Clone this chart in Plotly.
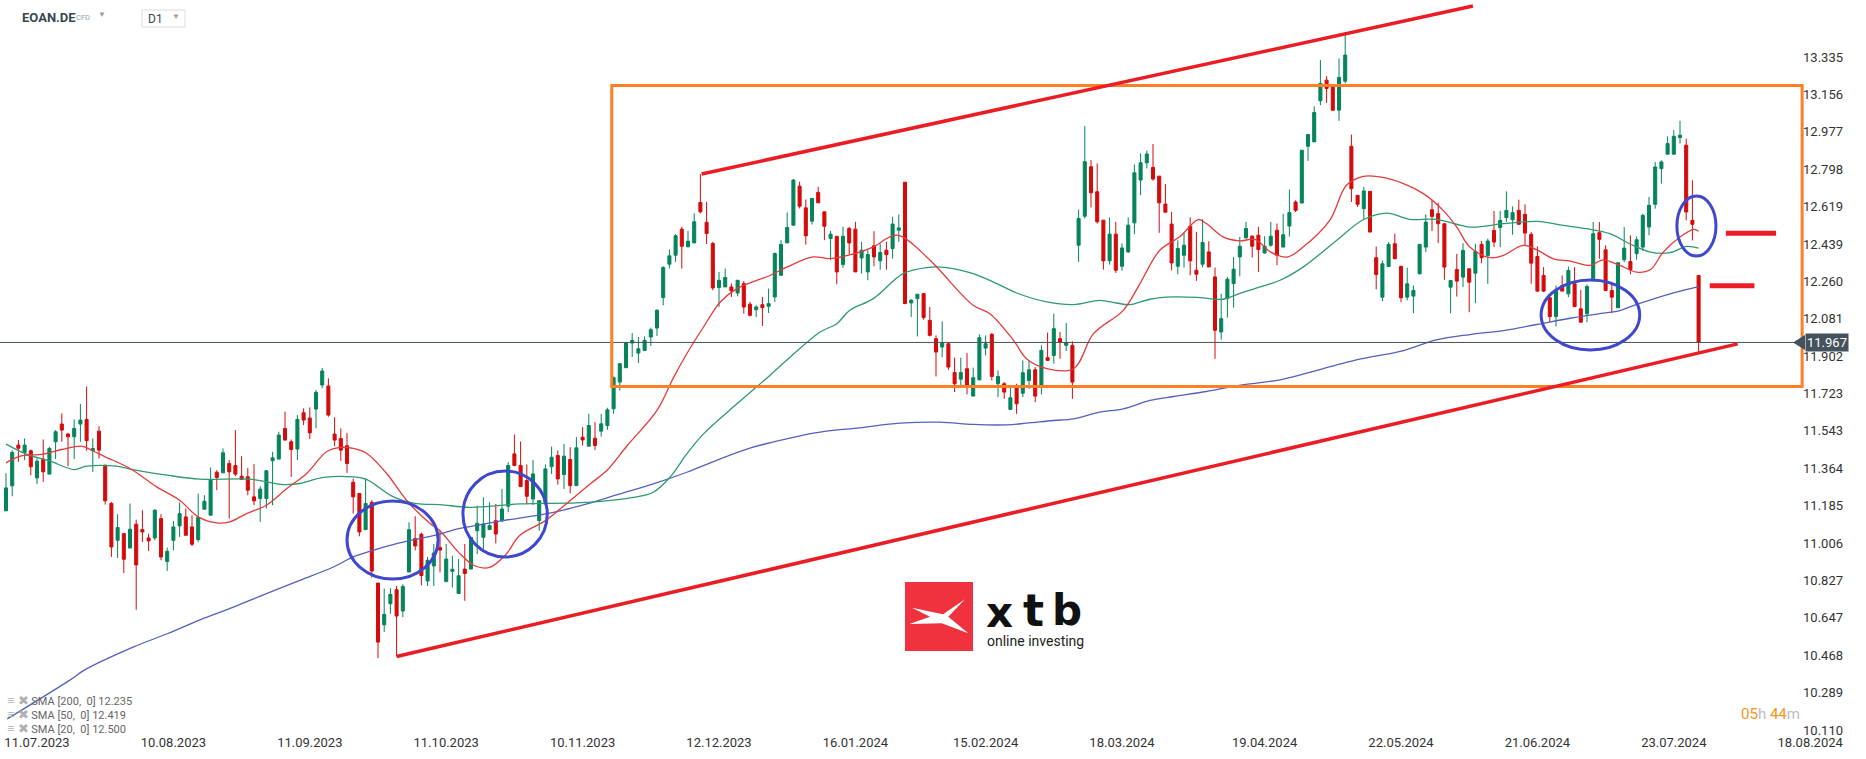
import plotly.graph_objects as go

# ---- candles, bar index 0 = early July 2023, last bar = 29.07.2024 ----
opens = [
    11.16, 11.28, 11.475, 11.44, 11.448, 11.318, 11.408, 11.336, 11.491, 11.576,
    11.528, 11.515, 11.576, 11.598, 11.448, 11.542, 11.379, 11.195, 11.019, 11.051,
    10.982, 11.096, 11.070, 11.030, 11.030, 11.123, 10.917, 11.019, 11.088, 11.131,
    11.083, 11.022, 11.168, 11.139, 11.345, 11.342, 11.387, 11.377, 11.326, 11.323,
    11.227, 11.219, 11.219, 11.400, 11.408, 11.555, 11.491, 11.456, 11.630, 11.605,
    11.648, 11.763, 11.758, 11.528, 11.507, 11.472, 11.297, 11.243, 11.070, 11.201,
    10.814, 10.614, 10.715, 10.782, 10.680, 10.867, 11.027, 11.048, 10.824, 10.896,
    10.985, 10.822, 10.870, 10.764, 10.881, 10.881, 11.065, 11.033, 11.070, 11.113,
    11.113, 11.182, 11.433, 11.377, 11.305, 11.217, 11.113, 11.193, 11.372, 11.425,
    11.334, 11.406, 11.281, 11.513, 11.470, 11.508, 11.542, 11.569, 11.649, 11.777,
    11.846, 11.964, 11.916, 11.929, 11.993, 12.036, 12.182, 12.342, 12.385, 12.510,
    12.425, 12.444, 12.638, 12.543, 12.441, 12.230, 12.233, 12.233, 12.204, 12.249,
    12.150, 12.124, 12.148, 12.140, 12.185, 12.289, 12.444, 12.529, 12.716, 12.612,
    12.548, 12.686, 12.593, 12.465, 12.476, 12.340, 12.513, 12.510, 12.372, 12.305,
    12.430, 12.358, 12.409, 12.417, 12.505, 12.735, 12.156, 12.177, 12.201, 12.073,
    11.985, 11.945, 11.961, 11.823, 11.791, 11.841, 11.710, 11.788, 11.940, 12.006,
    11.769, 11.769, 11.646, 11.750, 11.724, 11.785, 11.836, 11.756, 11.894, 11.905,
    11.985, 11.953, 11.953, 12.433, 12.572, 12.809, 12.689, 12.553, 12.358, 12.486,
    12.332, 12.401, 12.540, 12.745, 12.828, 12.806, 12.764, 12.630, 12.534, 12.332,
    12.385, 12.524, 12.313, 12.342, 12.401, 12.281, 12.017, 12.177, 12.249, 12.377,
    12.468, 12.476, 12.481, 12.396, 12.433, 12.505, 12.424, 12.525, 12.640, 12.635,
    12.907, 12.928, 13.125, 13.224, 13.192, 13.080, 13.219, 12.907, 12.672, 12.608,
    12.691, 12.373, 12.184, 12.331, 12.440, 12.331, 12.184, 12.189, 12.296, 12.424,
    12.603, 12.584, 12.536, 12.232, 12.317, 12.280, 12.320, 12.299, 12.437, 12.384,
    12.504, 12.517, 12.565, 12.555, 12.600, 12.581, 12.485, 12.379, 12.288, 12.181,
    12.091, 12.240, 12.200, 12.248, 12.128, 12.104, 12.272, 12.493, 12.411, 12.216,
    12.133, 12.363, 12.355, 12.392, 12.424, 12.520, 12.629, 12.800, 12.869, 12.869,
    12.949, 12.912, 12.552, 12.288,
]
highs = [
    11.34, 11.45, 11.50, 11.507, 11.454, 11.411, 11.502, 11.467, 11.547, 11.627,
    11.534, 11.598, 11.672, 11.755, 11.507, 11.566, 11.379, 11.203, 11.144, 11.054,
    11.195, 11.118, 11.163, 11.051, 11.168, 11.144, 10.984, 11.112, 11.200, 11.171,
    11.139, 11.243, 11.235, 11.368, 11.355, 11.459, 11.403, 11.547, 11.422, 11.366,
    11.384, 11.278, 11.355, 11.443, 11.539, 11.635, 11.502, 11.619, 11.651, 11.656,
    11.739, 11.845, 11.795, 11.608, 11.555, 11.534, 11.315, 11.243, 11.315, 11.211,
    10.814, 10.787, 10.789, 10.801, 10.808, 11.105, 11.134, 11.056, 10.939, 11.001,
    11.065, 11.001, 10.945, 10.929, 11.001, 11.033, 11.185, 11.225, 11.201, 11.193,
    11.265, 11.393, 11.526, 11.492, 11.382, 11.404, 11.209, 11.382, 11.468, 11.449,
    11.481, 11.465, 11.513, 11.561, 11.625, 11.585, 11.625, 11.654, 11.804, 11.868,
    11.969, 12.012, 11.993, 11.996, 12.038, 12.126, 12.332, 12.412, 12.486, 12.521,
    12.502, 12.585, 12.774, 12.641, 12.449, 12.305, 12.321, 12.249, 12.265, 12.262,
    12.161, 12.145, 12.185, 12.225, 12.398, 12.457, 12.590, 12.750, 12.737, 12.652,
    12.657, 12.713, 12.593, 12.502, 12.476, 12.521, 12.521, 12.545, 12.449, 12.409,
    12.500, 12.441, 12.449, 12.569, 12.580, 12.735, 12.175, 12.198, 12.201, 12.137,
    12.001, 12.068, 11.961, 11.894, 11.894, 11.916, 11.846, 12.006, 12.001, 12.012,
    11.833, 11.777, 11.753, 11.769, 11.881, 11.881, 11.849, 11.953, 12.014, 12.105,
    12.017, 12.060, 11.972, 12.604, 13.004, 12.841, 12.825, 12.553, 12.566, 12.545,
    12.441, 12.566, 12.820, 12.873, 12.886, 12.918, 12.764, 12.726, 12.593, 12.457,
    12.492, 12.566, 12.497, 12.558, 12.452, 12.326, 12.201, 12.281, 12.377, 12.473,
    12.545, 12.481, 12.521, 12.476, 12.545, 12.537, 12.584, 12.699, 12.648, 12.888,
    12.963, 13.099, 13.320, 13.243, 13.192, 13.328, 13.440, 12.963, 12.672, 12.712,
    12.691, 12.427, 12.360, 12.448, 12.488, 12.336, 12.325, 12.240, 12.437, 12.581,
    12.651, 12.635, 12.536, 12.264, 12.392, 12.443, 12.320, 12.440, 12.453, 12.464,
    12.597, 12.597, 12.691, 12.619, 12.651, 12.629, 12.496, 12.427, 12.328, 12.184,
    12.240, 12.288, 12.331, 12.328, 12.219, 12.245, 12.544, 12.544, 12.432, 12.248,
    12.349, 12.520, 12.480, 12.475, 12.584, 12.664, 12.832, 12.840, 12.955, 12.984,
    13.029, 12.944, 12.744, 12.288,
]
lows = [
    11.16, 11.23, 11.395, 11.403, 11.331, 11.288, 11.299, 11.336, 11.408, 11.491,
    11.374, 11.408, 11.491, 11.448, 11.347, 11.411, 11.190, 10.939, 10.934, 10.862,
    10.982, 10.686, 11.011, 10.968, 11.019, 10.923, 10.872, 10.971, 11.035, 11.043,
    10.990, 11.011, 11.168, 11.139, 11.259, 11.342, 11.123, 11.326, 11.310, 11.235,
    11.187, 11.107, 11.171, 11.187, 11.408, 11.499, 11.323, 11.403, 11.571, 11.504,
    11.555, 11.747, 11.611, 11.470, 11.400, 11.342, 11.147, 11.038, 11.070, 10.840,
    10.454, 10.579, 10.667, 10.462, 10.651, 10.867, 10.971, 10.803, 10.800, 10.800,
    10.865, 10.817, 10.793, 10.764, 10.729, 10.881, 10.953, 10.977, 11.070, 11.004,
    11.105, 11.153, 11.377, 11.276, 11.193, 11.188, 11.065, 11.193, 11.337, 11.286,
    11.265, 11.244, 11.281, 11.473, 11.470, 11.452, 11.516, 11.548, 11.625, 11.737,
    11.846, 11.897, 11.868, 11.929, 11.950, 11.998, 12.145, 12.321, 12.353, 12.321,
    12.425, 12.444, 12.585, 12.438, 12.217, 12.137, 12.233, 12.185, 12.188, 12.105,
    12.092, 12.089, 12.046, 12.108, 12.161, 12.286, 12.444, 12.526, 12.609, 12.436,
    12.532, 12.636, 12.457, 12.361, 12.246, 12.324, 12.388, 12.305, 12.297, 12.265,
    12.332, 12.316, 12.316, 12.369, 12.449, 12.153, 12.089, 11.996, 12.076, 11.996,
    11.804, 11.897, 11.836, 11.729, 11.756, 11.718, 11.710, 11.785, 11.905, 11.785,
    11.705, 11.697, 11.646, 11.625, 11.705, 11.745, 11.681, 11.718, 11.878, 11.865,
    11.889, 11.926, 11.697, 12.353, 12.561, 12.614, 12.537, 12.316, 12.340, 12.300,
    12.310, 12.396, 12.486, 12.673, 12.801, 12.742, 12.492, 12.591, 12.313, 12.294,
    12.326, 12.289, 12.262, 12.326, 12.329, 11.889, 11.980, 12.086, 12.134, 12.284,
    12.465, 12.374, 12.305, 12.393, 12.425, 12.337, 12.424, 12.475, 12.592, 12.635,
    12.837, 12.928, 13.104, 13.115, 13.077, 13.029, 13.208, 12.640, 12.616, 12.555,
    12.496, 12.222, 12.165, 12.331, 12.368, 12.160, 12.168, 12.107, 12.293, 12.400,
    12.501, 12.443, 12.267, 12.107, 12.187, 12.232, 12.112, 12.155, 12.347, 12.248,
    12.424, 12.424, 12.544, 12.483, 12.533, 12.432, 12.248, 12.208, 12.208, 12.064,
    12.043, 12.213, 12.184, 12.136, 12.064, 12.064, 12.272, 12.368, 12.213, 12.107,
    12.133, 12.352, 12.293, 12.363, 12.405, 12.480, 12.608, 12.728, 12.869, 12.869,
    12.920, 12.552, 12.456, 11.920,
]
closes = [
    11.27, 11.44, 11.46, 11.475, 11.371, 11.398, 11.347, 11.459, 11.539, 11.547,
    11.515, 11.555, 11.595, 11.496, 11.459, 11.451, 11.208, 10.987, 11.080, 10.928,
    11.072, 10.901, 11.059, 11.016, 11.163, 10.939, 10.966, 11.083, 11.147, 11.043,
    11.000, 11.128, 11.206, 11.307, 11.320, 11.438, 11.347, 11.336, 11.310, 11.259,
    11.208, 11.264, 11.352, 11.414, 11.523, 11.499, 11.454, 11.598, 11.595, 11.534,
    11.728, 11.830, 11.619, 11.499, 11.451, 11.387, 11.227, 11.059, 11.195, 10.872,
    10.531, 10.664, 10.760, 10.656, 10.798, 11.070, 10.992, 10.850, 10.923, 10.958,
    10.972, 10.929, 10.880, 10.849, 10.860, 11.033, 11.100, 11.097, 11.089, 11.049,
    11.169, 11.377, 11.377, 11.276, 11.230, 11.337, 11.209, 11.361, 11.417, 11.313,
    11.422, 11.281, 11.462, 11.500, 11.569, 11.473, 11.577, 11.644, 11.798, 11.865,
    11.964, 11.977, 11.937, 11.977, 12.028, 12.121, 12.326, 12.382, 12.478, 12.428,
    12.452, 12.545, 12.593, 12.489, 12.228, 12.265, 12.278, 12.214, 12.265, 12.137,
    12.097, 12.137, 12.134, 12.153, 12.393, 12.436, 12.518, 12.745, 12.620, 12.478,
    12.657, 12.636, 12.524, 12.486, 12.305, 12.476, 12.444, 12.305, 12.409, 12.388,
    12.377, 12.398, 12.388, 12.534, 12.516, 12.153, 12.169, 12.198, 12.086, 12.001,
    11.921, 11.966, 11.849, 11.769, 11.823, 11.753, 11.798, 11.990, 11.961, 11.804,
    11.804, 11.729, 11.702, 11.673, 11.822, 11.836, 11.710, 11.929, 11.881, 12.033,
    11.969, 11.966, 11.777, 12.561, 12.833, 12.684, 12.545, 12.358, 12.486, 12.313,
    12.420, 12.529, 12.780, 12.828, 12.870, 12.750, 12.636, 12.591, 12.348, 12.417,
    12.433, 12.358, 12.294, 12.446, 12.329, 12.025, 12.081, 12.270, 12.318, 12.428,
    12.513, 12.428, 12.412, 12.428, 12.476, 12.385, 12.483, 12.589, 12.600, 12.888,
    12.963, 13.069, 13.208, 13.184, 13.080, 13.237, 13.344, 12.704, 12.629, 12.693,
    12.496, 12.293, 12.344, 12.437, 12.368, 12.181, 12.248, 12.216, 12.437, 12.544,
    12.571, 12.536, 12.328, 12.264, 12.261, 12.408, 12.256, 12.403, 12.373, 12.453,
    12.448, 12.552, 12.600, 12.589, 12.533, 12.491, 12.347, 12.213, 12.213, 12.091,
    12.216, 12.213, 12.312, 12.139, 12.064, 12.235, 12.488, 12.461, 12.216, 12.184,
    12.349, 12.419, 12.315, 12.459, 12.576, 12.624, 12.808, 12.832, 12.920, 12.955,
    12.960, 12.592, 12.533, 11.967,
]
bars = list(range(len(closes)))

# moving averages (bar index, value)
sma20_x = [0, 2.3, 6, 9, 12.2, 14, 16, 20, 24.3, 28, 31, 34, 36.1, 38.8, 42, 45.3, 48.5,
           51.7, 53.9, 56, 58.2, 61.4, 64.6, 68.4, 70, 73, 75.6, 78, 80.7, 82.8, 87, 89.7,
           94.2, 96.9, 100.2, 105, 107.7, 109.8, 112.5, 115.2, 117.9, 123.3, 126, 130.2,
           132.9, 137.8, 139.9, 143.7, 148.5, 150.6, 156, 158.7, 162.5, 164.6, 167.9,
           172.2, 175.4, 180.2, 182.9, 186.1, 189.3, 192.3, 193.6, 196.3, 198.9, 201.5,
           204, 206.6, 209.2, 213.5, 216.2, 218.9, 221.6, 225.4, 228.6, 231.8, 234, 236.1,
           239.4, 241.5, 244.7, 246.9, 249.6, 252.3, 255.5, 257.6, 260.3, 263, 265.2,
           267.3, 270, 272.2, 273]
sma20_y = [11.390, 11.422, 11.432, 11.454, 11.470, 11.448, 11.419, 11.363, 11.275, 11.211,
           11.131, 11.102, 11.107, 11.147, 11.187, 11.267, 11.339, 11.443, 11.464, 11.459,
           11.435, 11.339, 11.211, 11.099, 11.065, 10.961, 10.897, 10.889, 10.953, 11.041,
           11.113, 11.177, 11.289, 11.353, 11.473, 11.641, 11.801, 11.913, 12.041, 12.161,
           12.225, 12.289, 12.329, 12.377, 12.369, 12.401, 12.425, 12.481, 12.377, 12.313,
           12.145, 12.105, 11.977, 11.889, 11.841, 11.841, 12.009, 12.121, 12.249, 12.409,
           12.473, 12.556, 12.537, 12.473, 12.454, 12.460, 12.400, 12.376, 12.424, 12.552,
           12.720, 12.763, 12.760, 12.728, 12.680, 12.600, 12.520, 12.424, 12.373, 12.384,
           12.432, 12.411, 12.368, 12.357, 12.336, 12.363, 12.336, 12.304, 12.315, 12.400,
           12.472, 12.509, 12.500]

sma50_x = [0, 3.3, 7.1, 11, 13, 17.8, 20.5, 26, 31.3, 39.3, 44.7, 47.4, 51.2, 56, 58.2,
           62.5, 66.2, 70, 74.8, 82.9, 93.7, 101.2, 104.4, 107.1, 109.8, 112.5, 117.9,
           123.2, 126.5, 131.3, 134, 136.1, 139.9, 144.7, 148.5, 151.7, 156, 159.8, 163,
           167.9, 172.2, 176.4, 179.1, 181.3, 184.5, 188.3, 192.6, 196.3, 198.9, 202.3,
           205.5, 209.2, 214.6, 218.9, 222.7, 226.4, 230.7, 236.1, 241.5, 246.9, 251.2,
           254.9, 258.7, 261.9, 265.2, 268.4, 271.1, 273]
sma50_y = [11.480, 11.432, 11.398, 11.358, 11.374, 11.374, 11.358, 11.331, 11.312, 11.312,
           11.286, 11.291, 11.320, 11.323, 11.310, 11.227, 11.195, 11.190, 11.177, 11.193,
           11.201, 11.225, 11.249, 11.321, 11.433, 11.529, 11.673, 11.809, 11.897, 12.017,
           12.057, 12.121, 12.177, 12.297, 12.326, 12.326, 12.297, 12.249, 12.204, 12.161,
           12.148, 12.169, 12.156, 12.148, 12.174, 12.185, 12.182, 12.174, 12.201, 12.233,
           12.265, 12.328, 12.456, 12.555, 12.587, 12.557, 12.557, 12.520, 12.536, 12.547,
           12.528, 12.512, 12.488, 12.440, 12.400, 12.397, 12.427, 12.419]

sma200_x = [0.2, 10.3, 12.7, 20.5, 26, 31.3, 36.7, 42, 47.4, 52.8, 56, 59.2, 63.5, 70,
            72.1, 80.2, 88.3, 93.7, 99, 104.4, 109.8, 115.2, 120.5, 125.9, 131.3, 137.7,
            144.2, 150.6, 156, 161.4, 164.6, 168.9, 172.2, 176.4, 180.2, 184.5, 188.3,
            193.6, 198.9, 205.5, 217.8, 225.4, 230.7, 236.1, 241.5, 246.9, 252.3, 257.6,
            260.3, 263, 268.4, 273]
sma200_y = [10.163, 10.349, 10.398, 10.507, 10.571, 10.638, 10.699, 10.763, 10.827, 10.891,
            10.939, 10.971, 11.006, 11.048, 11.068, 11.113, 11.153, 11.193, 11.241, 11.289,
            11.345, 11.409, 11.465, 11.505, 11.537, 11.558, 11.580, 11.585, 11.574, 11.572,
            11.580, 11.593, 11.601, 11.633, 11.649, 11.689, 11.708, 11.732, 11.761, 11.788,
            11.883, 11.928, 11.979, 12.005, 12.024, 12.053, 12.083, 12.107, 12.120, 12.149,
            12.200, 12.235]

last_price = 11.967
sma_labels = ['SMA [200,  0] 12.235', 'SMA [50,  0] 12.419', 'SMA [20,  0] 12.500']

# drawn analysis objects (bar index, price)
upper_trend = [(112.2, 12.774), (236.6, 13.579)]
lower_trend = [(63.0, 10.462), (279.3, 11.960)]
range_box = [(97.7, 11.756), (289.7, 13.198)]
level_dashes = [[(277.4, 12.490), (285.5, 12.490)], [(274.8, 12.239), (282.0, 12.239)]]
ellipses = [[(55.0, 10.833), (69.7, 11.207)], [(73.7, 10.939), (87.3, 11.351)],
            [(247.6, 11.931), (263.5, 12.266)], [(269.5, 12.381), (275.8, 12.669)]]

x_tick_bars = [5, 27, 49, 71, 93, 115, 137, 158, 180, 203, 225, 247, 269, 291]
x_tick_text = ['11.07.2023', '10.08.2023', '11.09.2023', '11.10.2023', '10.11.2023',
               '12.12.2023', '16.01.2024', '15.02.2024', '18.03.2024', '19.04.2024',
               '22.05.2024', '21.06.2024', '23.07.2024', '18.08.2024']
y_ticks = [13.335, 13.156, 12.977, 12.798, 12.619, 12.439, 12.260, 12.081, 11.902, 11.723,
           11.543, 11.364, 11.185, 11.006, 10.827, 10.647, 10.468, 10.289, 10.110]

GREEN = '#04845a'
RED = '#d30b0b'
TXT = '#333333'

W, H = 1866, 759
MR, MB = 20, 26
PW, PH = W - MR, H - MB


def px(x):
    return x / PW


def py(y):
    return 1 - y / PH


fig = go.Figure()

fig.add_trace(go.Candlestick(
    x=bars, open=opens, high=highs, low=lows, close=closes,
    increasing=dict(line=dict(color=GREEN, width=1), fillcolor=GREEN),
    decreasing=dict(line=dict(color=RED, width=1), fillcolor=RED),
    whiskerwidth=0, hoverinfo='skip'
))
fig.add_trace(go.Scatter(x=sma200_x, y=sma200_y, mode='lines',
                         line=dict(color='#5560bd', width=1.3, shape='spline')))
fig.add_trace(go.Scatter(x=sma50_x, y=sma50_y, mode='lines',
                         line=dict(color='#2f9a6e', width=1.3, shape='spline')))
fig.add_trace(go.Scatter(x=sma20_x, y=sma20_y, mode='lines',
                         line=dict(color='#e33b3b', width=1.3, shape='spline')))

shapes = []
# current price line
shapes.append(dict(type='line', xref='paper', yref='y', x0=0, x1=px(1794),
                   y0=last_price, y1=last_price, line=dict(color='#44525e', width=1)))
(x0, y0), (x1, y1) = range_box
shapes.append(dict(type='rect', x0=x0, x1=x1, y0=y0, y1=y1,
                   line=dict(color='#ff7f27', width=3)))
for (a, b), (c, d) in [upper_trend, lower_trend]:
    shapes.append(dict(type='line', x0=a, y0=b, x1=c, y1=d,
                       line=dict(color='#ec1c24', width=3.5)))
for (a, b), (c, d) in level_dashes:
    shapes.append(dict(type='line', x0=a, y0=b, x1=c, y1=d,
                       line=dict(color='#ec1c24', width=5)))
for (a, b), (c, d) in ellipses:
    shapes.append(dict(type='circle', x0=a, y0=b, x1=c, y1=d,
                       line=dict(color='#3f48cc', width=3)))

# price tag pointer
shapes.append(dict(type='path', xref='paper', yref='paper',
                   path=f'M {px(1793)} {py(342.5)} L {px(1805)} {py(335)} L {px(1805)} {py(350)} Z',
                   fillcolor='#44525e', line=dict(width=0)))
# D1 selector box
shapes.append(dict(type='rect', xref='paper', yref='paper', x0=px(142), x1=px(185),
                   y0=py(27), y1=py(10), line=dict(color='#dcdcdc', width=1)))
# xtb logo
shapes.append(dict(type='rect', xref='paper', yref='paper', x0=px(905), x1=px(973),
                   y0=py(651), y1=py(582), fillcolor='#f0323f', line=dict(width=0)))
logo_pts = [(912, 607.7), (943, 614.3), (965, 599.3), (948.3, 616.7), (968.3, 633.3),
            (941.7, 623.3), (909.3, 624), (930, 616.7)]
path = 'M ' + ' L '.join(f'{px(a)} {py(b)}' for a, b in logo_pts) + ' Z'
shapes.append(dict(type='path', xref='paper', yref='paper', path=path,
                   fillcolor='white', line=dict(width=0)))

ann = []


def note(x, y, text, size, color=TXT, anchor='left', family='Roboto'):
    ann.append(dict(xref='paper', yref='paper', x=px(x), y=py(y), text=text,
                    showarrow=False, xanchor=anchor, yanchor='middle',
                    font=dict(size=size, color=color, family=family)))


note(20, 18, '<b>EOAN.DE</b>', 13, '#37474f')
note(74, 18, 'CFD', 7.5, '#90a4ae')
note(96, 15, '▼', 8, '#9e9e9e')
note(146, 19, 'D1', 12, '#37474f')
note(170, 17, '▼', 8, '#9e9e9e')

ann.append(dict(xref='paper', yref='y', x=px(1805), y=last_price, text='11.967',
                showarrow=False, xanchor='left', yanchor='middle', bgcolor='#44525e',
                borderpad=1, font=dict(size=13, color='white', family='Roboto')))

for k, lbl in enumerate(sma_labels):
    note(5, 700 + 14 * k,
         '<span style="color:#b0b0b0;font-size:13px">≡ ✖</span> ' + lbl, 11, '#666666')

note(1739, 714, '<span style="color:#f7931e">05</span><span style="color:#bdbdbd">h</span> '
     '<span style="color:#f7931e">44</span><span style="color:#bdbdbd">m</span>', 15)

note(999.5, 612, '<b>x</b>', 42, '#111111', 'center', 'DejaVu Sans')
note(1033, 610, '<b>t</b>', 44, '#111111', 'center', 'DejaVu Sans')
note(1067, 610, '<b>b</b>', 42, '#111111', 'center', 'DejaVu Sans')
note(985, 641, 'online investing', 14, '#222222')

fig.update_layout(
    width=W, height=H,
    margin=dict(l=0, r=MR, t=0, b=MB),
    paper_bgcolor='white', plot_bgcolor='white',
    showlegend=False,
    shapes=shapes, annotations=ann,
    font=dict(family='Roboto', color=TXT, size=13),
    xaxis=dict(range=[-6 / 6.2, (PW - 6) / 6.2], tickvals=x_tick_bars, ticktext=x_tick_text,
               showgrid=False, zeroline=False, showline=False, ticks='',
               ticklabeloverflow='allow',
               rangeslider=dict(visible=False), tickfont=dict(size=13, color=TXT)),
    yaxis=dict(range=[13.608 - 0.004792 * PH, 13.608], tickvals=y_ticks, tickformat='.3f',
               side='right', ticklabelposition='inside', ticklabeloverflow='allow',
               showgrid=False, zeroline=False,
               showline=False, ticks='', tickfont=dict(size=13, color=TXT)),
)

# the page body has a default 8px margin; drop it so the figure sits at the corner
fig.write_html('out.html', config={'displayModeBar': False},
               post_script="document.body.style.margin='0px';")
